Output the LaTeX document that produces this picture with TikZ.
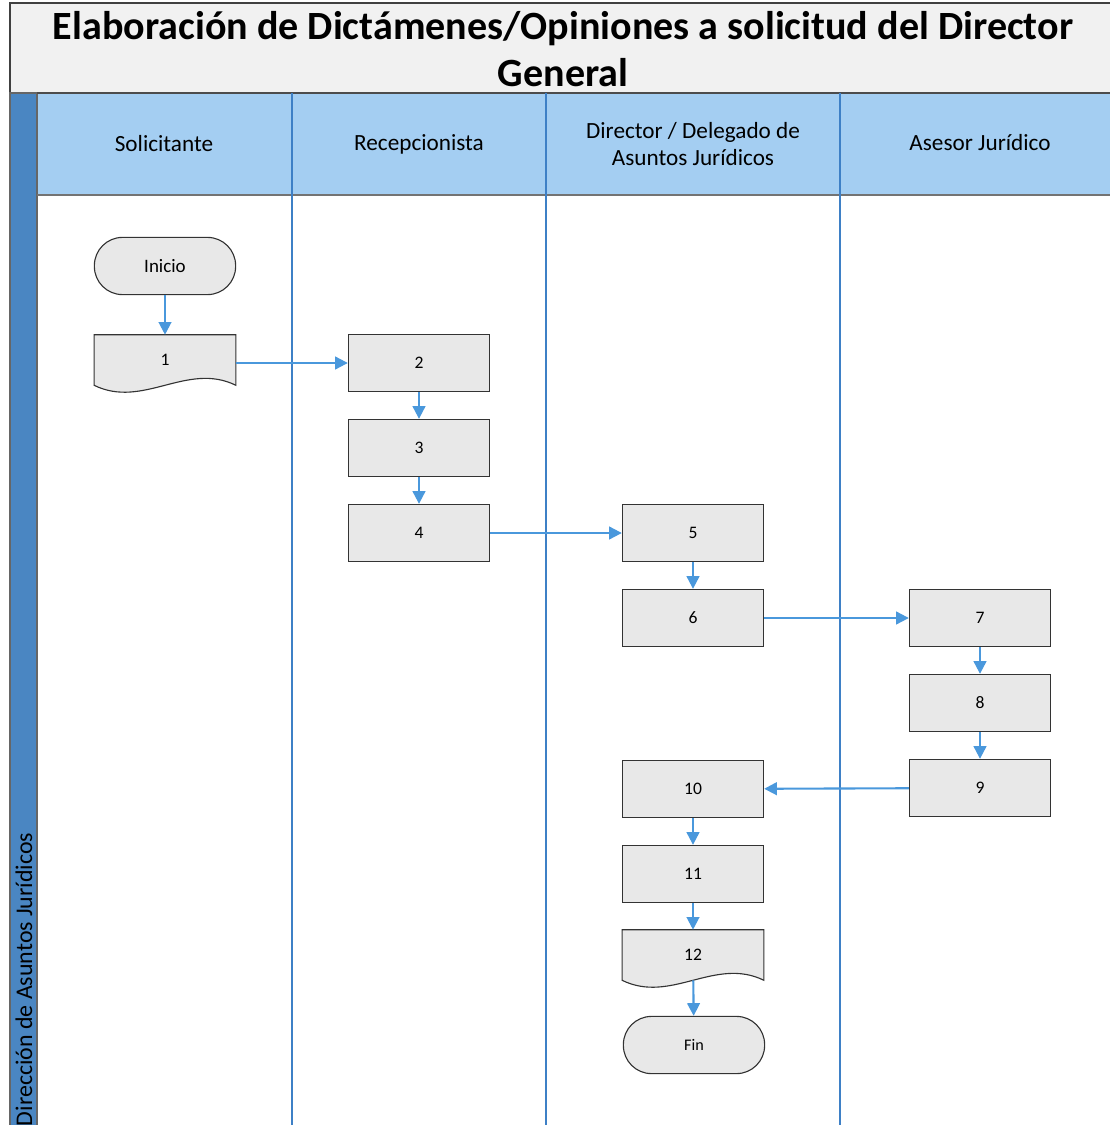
\documentclass[tikz,border=0pt]{standalone}
\usepackage{fontspec}
\setmainfont{Carlito}
\usetikzlibrary{arrows.meta,calc,backgrounds}

\definecolor{laneblue}{RGB}{62,128,198}
\definecolor{headblue}{RGB}{164,206,242}
\definecolor{stripblue}{RGB}{74,134,194}
\definecolor{flowblue}{RGB}{74,152,220}
\definecolor{boxgray}{RGB}{232,232,232}
\definecolor{titlegray}{RGB}{241,241,241}

% wavy outline of a document node
\newcommand{\docoutline}[1]{%
  \filldraw[fill=boxgray, draw=black!80, line width=0.8pt]
    (#1.north west) -- (#1.north east) -- (#1.south east)
    .. controls ($(#1.south east)+(-49,-24)$) and ($(#1.south west)+(49,24)$) .. (#1.south west)
    -- cycle;}

\begin{document}
\begin{tikzpicture}[
  x=0.025cm, y=-0.025cm,
  font=\fontsize{12.5}{15}\selectfont,
  task/.style={
    draw=black!80,
    fill=boxgray,
    line width=0.8pt,
    minimum width=3.53cm,
    minimum height=1.43cm,
    inner sep=0pt
  },
  docbox/.style={
    minimum width=3.53cm,
    minimum height=1.25cm,
    inner sep=0pt
  },
  term/.style={
    draw=black!80,
    fill=boxgray,
    line width=0.8pt,
    rounded corners=20pt,
    minimum width=3.53cm,
    minimum height=1.43cm
  },
  flow/.style={-{Triangle[length=9pt,width=9pt]}, line width=1.5pt, draw=flowblue},
  lane/.style={draw=laneblue, line width=1pt},
  lanehead/.style={font=\fontsize{16.5}{19.5}\selectfont, align=center}
]
\useasboundingbox (0,0) rectangle (1110,1125);

% title and lanes
\filldraw[fill=titlegray, draw=black!75, line width=1pt] (10,3) rectangle (1114,93);
\node[font=\fontsize{28.5}{33}\selectfont\bfseries, align=center] (title) at (563,49)
  {Elaboración de Dictámenes/Opiniones a solicitud del Director\\General};

\fill[headblue] (37,93) rectangle (1114,195);
\filldraw[fill=stripblue, draw=black!60, line width=0.8pt] (10,93) rectangle (37,1130);
\draw[black!70, line width=1pt] (37,93) -- (1114,93);
\draw[black!55, line width=1pt] (37,195) -- (1114,195);
\foreach \lx in {292,546,840}
  \draw[lane] (\lx,93) -- (\lx,1130);

\node[rotate=90, anchor=west, font=\fontsize{17}{20}\selectfont] (dept) at (24,1131)
  {Dirección de Asuntos Jurídicos};

\node[lanehead] (hdSol) at (164,144) {Solicitante};
\node[lanehead] (hdRec) at (419,144) {Recepcionista};
\node[lanehead] (hdDir) at (693,144) {Director / Delegado de\\Asuntos Jurídicos};
\node[lanehead] (hdAse) at (980,143) {Asesor Jurídico};

% steps
\node[term, font=\fontsize{13.5}{16}\selectfont] (inicio) at (165,266) {Inicio};
\node[docbox] (doc1) at (165,360) {1};
\node[task] (t2) at (419,363) {2};
\node[task] (t3) at (419,448) {3};
\node[task] (t4) at (419,533) {4};
\node[task] (t5) at (693,533) {5};
\node[task] (t6) at (693,618) {6};
\node[task] (t7) at (980,618) {7};
\node[task] (t8) at (980,703) {8};
\node[task] (t9) at (980,788) {9};
\node[task] (t10) at (693,789) {10};
\node[task] (t11) at (693,874) {11};
\node[docbox] (doc12) at (693,955) {12};
\node[term, font=\fontsize{11.5}{14}\selectfont] (fin) at (694,1045) {Fin};

\begin{scope}[on background layer]
  \docoutline{doc1}
  \docoutline{doc12}
\end{scope}

\draw[flow] (inicio) -- (doc1);
\draw[flow] (doc1.east |- t2.west) -- (t2.west);
\draw[flow] (t2) -- (t3);
\draw[flow] (t3) -- (t4);
\draw[flow] (t4) -- (t5);
\draw[flow] (t5) -- (t6);
\draw[flow] (t6) -- (t7);
\draw[flow] (t7) -- (t8);
\draw[flow] (t8) -- (t9);
\draw[flow] (t9) -- (t10);
\draw[flow] (t10) -- (t11);
\draw[flow] (t11) -- (doc12);
\draw[flow] (doc12) -- (fin);

\end{tikzpicture}
\end{document}
